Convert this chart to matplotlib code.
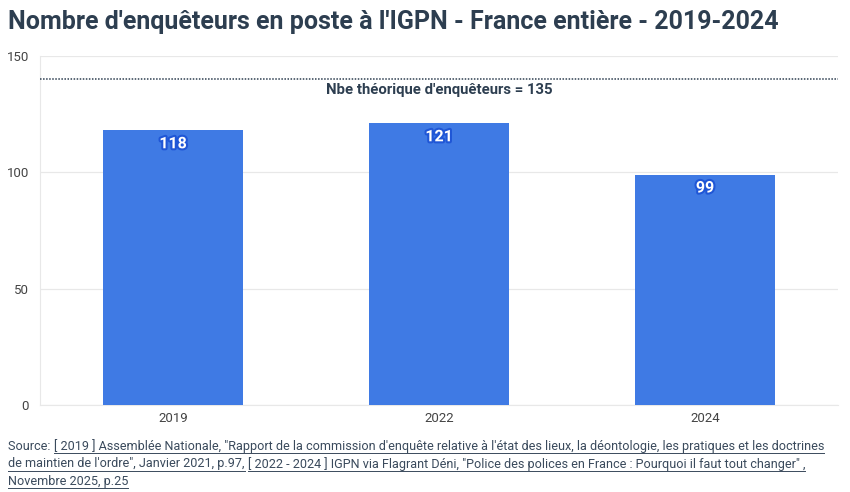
import matplotlib
matplotlib.use("Agg")
import matplotlib.pyplot as plt
import matplotlib.patheffects as pe

years = ["2019", "2022", "2024"]
enqueteurs = [118, 121, 99]
theorique_line = 140
theorique_label = "Nbe théorique d'enquêteurs = 135"
yticks = [0, 50, 100, 150]
title = "Nombre d'enquêteurs en poste à l'IGPN - France entière - 2019-2024"

plt.rcParams['font.family'] = ['Roboto', 'DejaVu Sans']

W, H = 850, 492
fig = plt.figure(figsize=(W/100, H/100), dpi=100)
ax = fig.add_axes([40/W, (H-405)/H, (838-40)/W, (405-56)/H])

x = list(range(len(years)))
bars = ax.bar(x, enqueteurs, width=0.527, color="#3f7ae4", zorder=3)
ax.set_xlim(-0.5, len(years)-0.5)
ax.set_ylim(0, 150)
ax.set_yticks(yticks)
ax.set_xticks(x)
ax.set_xticklabels(years)
ax.tick_params(length=0, labelsize=9.5, colors="#444444")
ax.tick_params(axis='y', pad=8)
ax.tick_params(axis='x', pad=5)
ax.grid(axis='y', color="#e8e8e8", linewidth=0.9, zorder=0)
for s in ["top", "right"]:
    ax.spines[s].set_visible(False)
ax.spines["left"].set_color("#e8e8e8")
ax.spines["bottom"].set_color("#e8e8e8")

for xi, v in zip(x, enqueteurs):
    ax.text(xi, v - 2.5, str(v), ha="center", va="top", color="white",
            fontsize=11.5, fontweight="bold", zorder=5,
            path_effects=[pe.withStroke(linewidth=3, foreground="#1f56d6")])

ax.axhline(theorique_line, color="#2d3e50", linestyle=(0, (1, 1)), linewidth=1.1, zorder=4)
ax.text(1, 135.3, theorique_label, ha="center", va="center", fontsize=10.7,
        fontweight="bold", color="#2d3e50", zorder=5)

fig.text(8/W, 1 - 22/H, title, ha="left", va="center", fontsize=18,
         fontweight="bold", color="#2d3e50")

# source with underlines
src_color = "#3a4a5c"
fs = 9.1
lines = [
    [("Source: ", False), ("[ 2019 ] Assemblée Nationale, \"Rapport de la commission d'enquête relative à l'état des lieux, la déontologie, les pratiques et les doctrines", True)],
    [("de maintien de l'ordre\", Janvier 2021, p.97,", True), (" ", False), ("[ 2022 - 2024 ] IGPN via Flagrant Déni, \"Police des polices en France : Pourquoi il faut tout changer\" ,", True)],
    [("Novembre 2025, p.25", True)],
]
ys = [446, 464, 481]
fig.canvas.draw()
renderer = fig.canvas.get_renderer()
for parts, yp in zip(lines, ys):
    xp = 8
    for txt, ul in parts:
        t = fig.text(xp/W, 1 - yp/H, txt, ha="left", va="center", fontsize=fs, color=src_color)
        bb = t.get_window_extent(renderer=renderer)
        if ul and txt.strip():
            yline = 1 - (yp + 7)/H
            fig.add_artist(plt.Line2D([bb.x0/W, bb.x1/W], [yline, yline], color=src_color,
                                      linewidth=0.7, transform=fig.transFigure))
        xp = bb.x1
fig.savefig("out.png", dpi=100)
